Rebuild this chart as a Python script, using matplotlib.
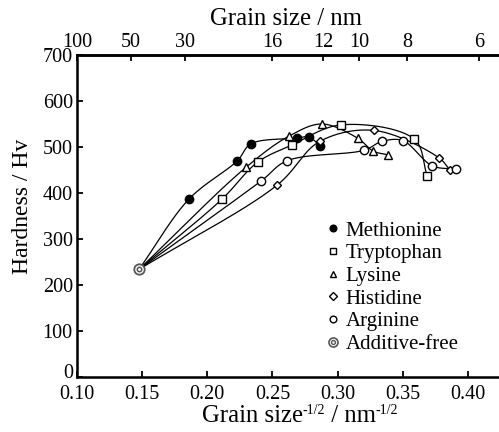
import numpy as np
import matplotlib
matplotlib.use("Agg")
import matplotlib.pyplot as plt
from matplotlib.legend_handler import HandlerTuple
from matplotlib.lines import Line2D
import matplotlib.transforms as mtransforms

plt.rcParams['font.family'] = ['Liberation Serif', 'DejaVu Serif']

# Additive-free reference point
base_x = 0.1476
base_y = 234

met_x = [0.186, 0.223, 0.2335, 0.2686, 0.278, 0.2865]
met_y = [387, 470, 507, 519, 522, 502]

trp_x = [0.211, 0.2386, 0.2647, 0.3023, 0.3588, 0.3686]
trp_y = [386, 467, 504, 548, 517, 438]

lys_x = [0.2297, 0.2629, 0.288, 0.3154, 0.3274, 0.3384]
lys_y = [456, 524, 550, 519, 491, 483]

his_x = [0.2535, 0.2862, 0.3281, 0.3775, 0.3862]
his_y = [417, 512, 536, 477, 450]

arg_x = [0.2412, 0.2611, 0.3204, 0.3338, 0.3499, 0.3726, 0.3905]
arg_y = [426, 470, 493, 512, 514, 459, 452]

labels = ["Methionine", "Tryptophan", "Lysine", "Histidine", "Arginine", "Additive-free"]
top_ticks_nm = [100, 50, 30, 16, 12, 10, 8, 6]

fig = plt.figure(figsize=(4.99, 4.32), dpi=100)
ax = fig.add_axes([77/499, 1-377/432, 1-77/499, (377-55)/432])
ax.set_xlim(0.10, 0.4238)
ax.set_ylim(0, 700)


def catmull_rom(px, py, n=30):
    """Centripetal Catmull-Rom curve through points, computed in display space."""
    P = ax.transData.transform(np.column_stack([px, py]))
    first = 2 * P[0] - P[1]
    last = 2 * P[-1] - P[-2]
    P = np.vstack([first, P, last])
    out = []
    for i in range(1, len(P) - 2):
        p0, p1, p2, p3 = P[i - 1], P[i], P[i + 1], P[i + 2]
        def tj(ti, a, b):
            return ti + np.linalg.norm(b - a) ** 0.5 + 1e-9
        t0 = 0.0
        t1 = tj(t0, p0, p1)
        t2 = tj(t1, p1, p2)
        t3 = tj(t2, p2, p3)
        t = np.linspace(t1, t2, n)[:, None]
        A1 = (t1 - t) / (t1 - t0) * p0 + (t - t0) / (t1 - t0) * p1
        A2 = (t2 - t) / (t2 - t1) * p1 + (t - t1) / (t2 - t1) * p2
        A3 = (t3 - t) / (t3 - t2) * p2 + (t - t2) / (t3 - t2) * p3
        B1 = (t2 - t) / (t2 - t0) * A1 + (t - t0) / (t2 - t0) * A2
        B2 = (t3 - t) / (t3 - t1) * A2 + (t - t1) / (t3 - t1) * A3
        C = (t2 - t) / (t2 - t1) * B1 + (t - t1) / (t2 - t1) * B2
        out.append(C)
    C = np.vstack(out)
    return ax.transData.inverted().transform(C)


series = [
    (met_x, met_y, dict(marker='o', mfc='black', mec='black', ms=6)),
    (trp_x, trp_y, dict(marker='s', mfc='white', mec='black', ms=5.5)),
    (lys_x, lys_y, dict(marker='^', mfc='white', mec='black', ms=6)),
    (his_x, his_y, dict(marker='D', mfc='white', mec='black', ms=4.5)),
    (arg_x, arg_y, dict(marker='o', mfc='white', mec='black', ms=6)),
]

handles = []
for xs, ys, st in series:
    cx_ = [base_x] + list(xs)
    cy_ = [base_y] + list(ys)
    curve = catmull_rom(cx_, cy_)
    ax.plot(curve[:, 0], curve[:, 1], color='black', lw=0.9, zorder=2)
    ax.plot(xs, ys, ls='none', mew=1.0, zorder=3, **st)
    small = dict(st)
    small['ms'] = st['ms'] * 0.8
    handles.append(Line2D([], [], ls='none', mew=1.0, **small))

# additive-free
ax.plot([base_x], [base_y], ls='none', marker='o', ms=7.5, mfc='white', mec='#555555', mew=1.3, zorder=4)
ax.plot([base_x], [base_y], ls='none', marker='o', ms=3.2, mfc='white', mec='#555555', mew=1.1, zorder=5)
h1 = Line2D([], [], ls='none', marker='o', ms=6.5, mfc='white', mec='#555555', mew=1.2)
h2 = Line2D([], [], ls='none', marker='o', ms=2.8, mfc='white', mec='#555555', mew=1.0)
handles.append((h1, h2))

ax.set_xticks([0.10, 0.15, 0.20, 0.25, 0.30, 0.35, 0.40])
ax.set_xticklabels(["0.10", "0.15", "0.20", "0.25", "0.30", "0.35", "0.40"])
ax.set_yticks(range(0, 701, 100))
ax.tick_params(direction='in', length=4, width=1.3, labelsize=14.5)
ax.tick_params(axis='x', pad=6)
ax.tick_params(axis='y', pad=3)
ax.spines['right'].set_visible(False)
for s in ['left', 'bottom', 'top']:
    ax.spines[s].set_linewidth(1.8)

# shift the "0" y label up a bit
lbl0 = ax.get_yticklabels()[0]
lbl0.set_transform(lbl0.get_transform() + mtransforms.ScaledTranslation(0, 6/100, fig.dpi_scale_trans))

fig.text(23/499, 1 - 206/432, "Hardness / Hv", fontsize=17, rotation=90, ha='center', va='center')

top = ax.twiny()
top.set_xlim(ax.get_xlim())
top.set_xticks([d ** -0.5 for d in top_ticks_nm])
top.set_xticklabels([str(d) for d in top_ticks_nm])
top.tick_params(direction='in', length=4, width=1.3, labelsize=14.5, pad=2)
top.spines['right'].set_visible(False)
top.spines['top'].set_linewidth(1.8)
fig.text(286/499, 1 - 25/432, "Grain size / nm", fontsize=17.8, ha='center', va='baseline')

# bottom label built from pieces (small superscripts)
pieces = [("Grain size", 17.8, 0), ("-1/2", 10, 8), (" / nm", 17.8, 0), ("-1/2", 10, 8)]
renderer = fig.canvas.get_renderer()
texts = []
widths = []
for s, fs, dy in pieces:
    tt = fig.text(0, 0, s, fontsize=fs, va='baseline', ha='left')
    widths.append(tt.get_window_extent(renderer).width)
    texts.append((tt, dy))
total = sum(widths)
x0 = 300 - total / 2
baseline = 432 - 422
for (tt, dy), w in zip(texts, widths):
    tt.set_position((x0 / 499, (baseline + dy) / 432))
    x0 += w

leg = ax.legend(handles, labels, handler_map={tuple: HandlerTuple(ndivide=1, pad=0)},
                loc='upper left', bbox_to_anchor=(325/499, 1-221/432), bbox_transform=fig.transFigure,
                frameon=False, fontsize=15, handlelength=0.8, handletextpad=0.18,
                labelspacing=0.15, borderaxespad=0, borderpad=0)

fig.savefig("out.png", dpi=100)
